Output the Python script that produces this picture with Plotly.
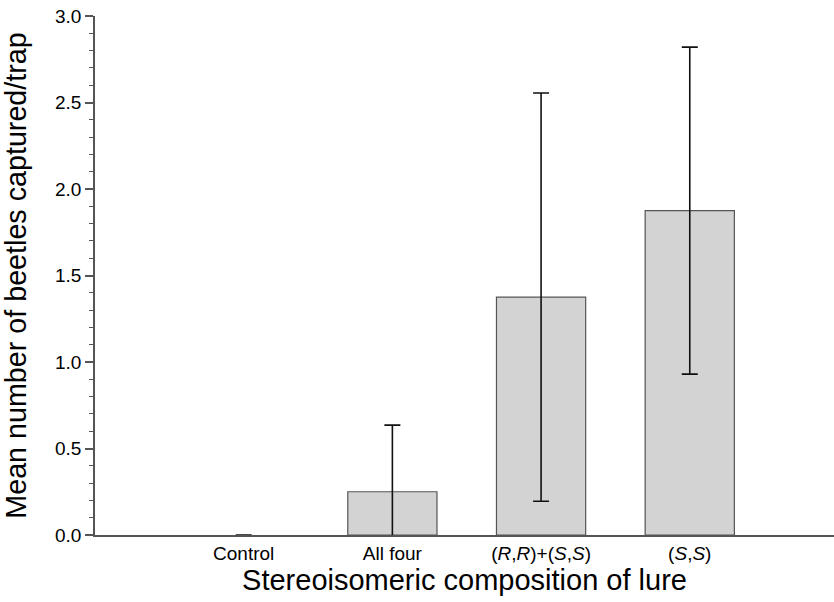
import plotly.graph_objects as go

categories = ["Control", "All four", "(<i>R</i>,<i>R</i>)+(<i>S</i>,<i>S</i>)", "(<i>S</i>,<i>S</i>)"]
means = [0.0, 0.25, 1.375, 1.875]
errors = [0.0, 0.385, 1.18, 0.945]

x_pos = list(range(len(categories)))
outline_w = [0 if m == 0 else 1.2 for m in means]
fill_c = ["rgba(0,0,0,0)" if m == 0 else "#d3d3d3" for m in means]
line_c = ["rgba(0,0,0,0)" if m == 0 else "#555555" for m in means]
err_arr = [e if e > 0 else float("nan") for e in errors]

fig = go.Figure()
fig.add_trace(go.Bar(
    x=x_pos, y=means, width=0.6,
    marker=dict(color=fill_c, line=dict(color=line_c, width=outline_w)),
    error_y=dict(type="data", array=err_arr, visible=True, color="#111111",
                 thickness=1.6, width=8),
    showlegend=False,
))

fig.update_layout(
    width=834, height=602,
    margin=dict(l=95, r=0, t=16, b=67, autoexpand=False),
    paper_bgcolor="white", plot_bgcolor="white",
    font=dict(family="Liberation Sans, Arial, sans-serif", color="black"),
    xaxis=dict(
        range=[-1.0, 3.97],
        tickmode="array", tickvals=x_pos, ticktext=categories,
        showline=True, linecolor="#555555", linewidth=2,
        ticks="", showgrid=False, zeroline=False,
        tickfont=dict(size=19),
        title=dict(text="Stereoisomeric composition of lure", font=dict(size=29), standoff=2),
    ),
    yaxis=dict(
        range=[0, 3.0],
        tickmode="array", tickvals=[0, 0.5, 1.0, 1.5, 2.0, 2.5, 3.0],
        ticktext=["0.0", "0.5", "1.0", "1.5", "2.0", "2.5", "3.0"],
        showline=True, linecolor="#555555", linewidth=1.5,
        ticks="outside", ticklen=8, tickwidth=1.5, tickcolor="#555555",
        minor=dict(ticks="outside", ticklen=4, tickwidth=1, tickcolor="#555555", dtick=0.1),
        showgrid=False, zeroline=False,
        tickfont=dict(size=19),
        title=dict(text="Mean number of beetles captured/trap", font=dict(size=28.7), standoff=20),
    ),
)

fig.write_html(
    "out.html",
    config={"displayModeBar": False},
    post_script="document.body.style.margin='0';document.body.style.overflow='hidden';",
)
